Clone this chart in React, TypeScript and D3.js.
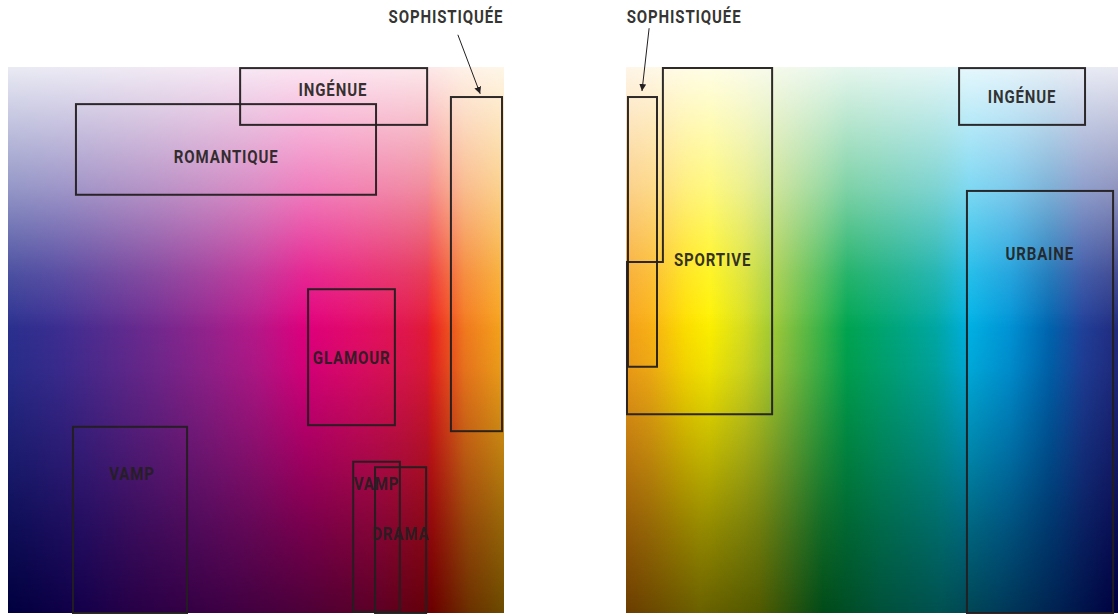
import React from "react";
import * as d3 from "d3";

const W = 1118;
const H = 615;

// hue stops across each panel (percent of panel width) at full colour
const leftHueOffsets = [0, 10, 20, 30, 40, 50, 60, 70, 80, 84.5, 85.5, 92, 100];
const leftHueColors = ["#2b3190", "#3d2f93", "#582d91", "#742a90", "#95248f", "#b8198b", "#e2007f", "#e60c6a", "#e3174e", "#e41c38", "#ee2422", "#f47a20", "#f8a81c"];
const rightHueOffsets = [0, 5, 12, 17, 24, 32, 40, 45, 55, 63, 70, 78, 86, 93, 100];
const rightHueColors = ["#f7a21b", "#fbb316", "#ffe000", "#fff200", "#d9e021", "#8dc63f", "#39b54a", "#00a651", "#00a77f", "#00a9a5", "#00b2e6", "#0095d8", "#0066b0", "#21409a", "#232c80"];

// deep colours along the bottom edge
const leftDeepOffsets = [0, 15, 25, 45, 60, 75, 84.5, 85.5, 93, 100];
const leftDeepColors = ["#00003e", "#14004a", "#260046", "#3e0042", "#4c0038", "#5c0024", "#640008", "#6a0000", "#6a3000", "#6a4a00"];
const rightDeepOffsets = [0, 15, 27, 40, 52, 64, 76, 88, 100];
const rightDeepColors = ["#6a3c00", "#6a6000", "#505800", "#004a18", "#00503a", "#005050", "#003a58", "#002050", "#000040"];

// lightness overlays (percent of panel height)
const whiteOffsets = [0, 22, 38, 48];
const whiteOpacity = [0.9, 0.5, 0.15, 0];
const deepOffsets = [45, 55, 70, 85, 100];
const deepOpacity = [0, 0.1, 0.4, 0.72, 1];

// left panel boxes (percent units)
const leftLabels = ["INGÉNUE", "ROMANTIQUE", "GLAMOUR", "VAMP", "VAMP", "DRAMA", "SOPHISTIQUÉE"];
const leftX0 = [46.8, 13.7, 60.5, 13.1, 69.6, 74.0, 89.3];
const leftX1 = [84.5, 74.2, 78.0, 36.1, 79.0, 84.3, 99.6];
const leftY0 = [0.2, 6.8, 40.7, 65.9, 72.3, 73.3, 5.5];
const leftY1 = [10.6, 23.4, 65.6, 100, 99.8, 100, 66.7];
const leftLabelX = [65.5, 44.0, 69.3, 25.0, 74.3, 79.2, 88.3];
const leftLabelY = [5.3, 17.6, 54.4, 75.6, 77.5, 86.6, -8.1];
const leftArrow = [90.7, -5.9, 95.2, 4.9];

// right panel boxes
const rightLabels = ["SOPHISTIQUÉE", "INGÉNUE", "URBAINE"];
const rightX0 = [0.4, 67.7, 69.3];
const rightX1 = [6.3, 93.3, 99.0];
const rightY0 = [5.5, 0.2, 22.7];
const rightY1 = [54.9, 10.6, 100];
const rightLabelX = [11.8, 80.5, 84.1];
const rightLabelY = [-8.1, 6.6, 35.3];
const rightArrow = [4.7, -7.1, 3.25, 4.4];

const sportiveX = [7.5, 29.7, 29.7, 0.2, 0.2, 7.5];
const sportiveY = [0.2, 0.2, 63.6, 63.6, 35.7, 35.7];
const sportiveLabel = ["SPORTIVE", 17.6, 36.4] as const;

const INK = "#231f20";
const FONT = "Roboto, 'Noto Sans', sans-serif";

const off = d3.scaleLinear().domain([0, 100]).range([0, 1]);

// condensed bold label
const Label = ({ x, y, text }: { x: number; y: number; text: string }) => (
  <g transform={`translate(${x},${y}) scale(0.86,1)`}>
    <text textAnchor="middle" fontFamily={FONT} fontWeight={700} fontSize={17.5} letterSpacing={1}
      fill={INK} fillOpacity={0.92}>{text}</text>
  </g>
);

const Panel = ({ id, x0, x1, hueOffsets, hueColors, deepOffs, deepColors, labels, bx0, bx1, by0, by1, lx, ly, arrow, children }: any) => {
  const x = d3.scaleLinear().domain([0, 100]).range([x0, x1]);
  const y = d3.scaleLinear().domain([0, 100]).range([67, 613]);
  const px = x(0), py = y(0), pw = x(100) - x(0), ph = y(100) - y(0);
  return (
    <g>
      <defs>
        <linearGradient id={`hue-${id}`} x1="0" y1="0" x2="1" y2="0">
          {hueOffsets.map((o: number, i: number) => (
            <stop key={i} offset={off(o)} stopColor={hueColors[i]} />
          ))}
        </linearGradient>
        <linearGradient id={`deep-${id}`} x1="0" y1="0" x2="1" y2="0">
          {deepOffs.map((o: number, i: number) => (
            <stop key={i} offset={off(o)} stopColor={deepColors[i]} />
          ))}
        </linearGradient>
        <linearGradient id={`white-${id}`} x1="0" y1="0" x2="0" y2="1">
          {whiteOffsets.map((o, i) => (
            <stop key={i} offset={off(o)} stopColor="#fff" stopOpacity={whiteOpacity[i]} />
          ))}
        </linearGradient>
        <linearGradient id={`ramp-${id}`} x1="0" y1="0" x2="0" y2="1">
          {deepOffsets.map((o, i) => (
            <stop key={i} offset={off(o)} stopColor="#fff" stopOpacity={deepOpacity[i]} />
          ))}
        </linearGradient>
        <mask id={`mask-${id}`}>
          <rect x={px} y={py} width={pw} height={ph} fill={`url(#ramp-${id})`} />
        </mask>
        <marker id={`arrow-${id}`} viewBox="0 0 10 10" refX="10" refY="5" markerWidth="7" markerHeight="7" orient="auto-start-reverse" markerUnits="userSpaceOnUse">
          <path d="M0,0 L10,5 L0,10 z" fill={INK} />
        </marker>
      </defs>
      <rect x={px} y={py} width={pw} height={ph} fill={`url(#hue-${id})`} />
      <rect x={px} y={py} width={pw} height={ph} fill={`url(#white-${id})`} />
      <rect x={px} y={py} width={pw} height={ph} fill={`url(#deep-${id})`} mask={`url(#mask-${id})`} />
      {labels.map((l: string, i: number) => (
        <rect key={i} x={x(bx0[i])} y={y(by0[i])} width={x(bx1[i]) - x(bx0[i])} height={y(by1[i]) - y(by0[i])}
          fill="none" stroke={INK} strokeWidth={2} strokeOpacity={0.95} />
      ))}
      {children && children(x, y)}
      <line x1={x(arrow[0])} y1={y(arrow[1])} x2={x(arrow[2])} y2={y(arrow[3])} stroke={INK} strokeWidth={1}
        markerEnd={`url(#arrow-${id})`} />
      {labels.map((l: string, i: number) => (
        <Label key={i} x={x(lx[i])} y={y(ly[i])} text={l} />
      ))}
    </g>
  );
};

export default function App() {
  return (
    <svg width={W} height={H} style={{ position: "absolute", left: 0, top: 0 }}>
      <rect width={W} height={H} fill="#fff" />
      <Panel id="l" x0={8} x1={504} hueOffsets={leftHueOffsets} hueColors={leftHueColors}
        deepOffs={leftDeepOffsets} deepColors={leftDeepColors}
        labels={leftLabels} bx0={leftX0} bx1={leftX1} by0={leftY0} by1={leftY1}
        lx={leftLabelX} ly={leftLabelY} arrow={leftArrow} />
      <Panel id="r" x0={626} x1={1118} hueOffsets={rightHueOffsets} hueColors={rightHueColors}
        deepOffs={rightDeepOffsets} deepColors={rightDeepColors}
        labels={rightLabels} bx0={rightX0} bx1={rightX1} by0={rightY0} by1={rightY1}
        lx={rightLabelX} ly={rightLabelY} arrow={rightArrow}>
        {(x: any, y: any) => (
          <g>
            <polygon points={sportiveX.map((v, i) => `${x(v)},${y(sportiveY[i])}`).join(" ")}
              fill="none" stroke={INK} strokeWidth={2} strokeOpacity={0.95} />
            <Label x={x(sportiveLabel[1])} y={y(sportiveLabel[2])} text={sportiveLabel[0]} />
          </g>
        )}
      </Panel>
    </svg>
  );
}
